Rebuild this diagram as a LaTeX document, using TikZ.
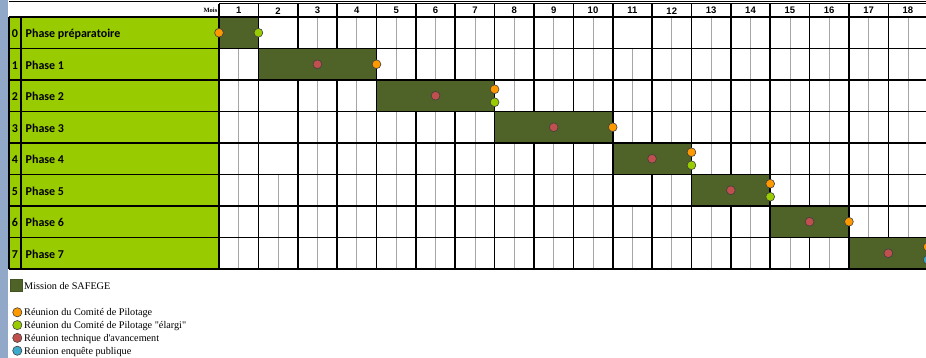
\documentclass[tikz,border=0pt]{standalone}
\usepackage{fontspec}
\setmainfont{Liberation Serif}[Ligatures=TeXOff]
\newfontfamily\calibri{Carlito}
\newfontfamily\arial{Liberation Sans}
\usetikzlibrary{positioning}
\definecolor{safege}{RGB}{79,98,40}
\definecolor{labelgreen}{RGB}{153,204,0}
\definecolor{copil}{RGB}{255,153,0}
\definecolor{copilx}{RGB}{153,204,0}
\definecolor{tech}{RGB}{192,80,77}
\definecolor{enquete}{RGB}{60,170,205}
\definecolor{sidebar}{RGB}{146,168,200}

\begin{document}
\begin{tikzpicture}[x=1pt, y=-1pt,
  month/.style={font=\arial\bfseries\fontsize{9.5}{10}\selectfont, inner sep=0pt},
  phasename/.style={font=\calibri\bfseries\fontsize{12}{14}\selectfont, anchor=base west, inner sep=0pt},
  phasenum/.style={phasename, anchor=base},
  bar/.style={fill=safege, draw=black, line width=1.6pt, inner sep=0pt, outer sep=0pt,
              minimum height=31.5pt, anchor=north west},
  meet/.style={circle, draw=black!75, line width=0.6pt, inner sep=0pt, minimum size=8.8pt},
  legend/.style={font=\fontsize{10.2}{12}\selectfont, anchor=base west, inner sep=0pt},
  thickline/.style={line width=1.6pt},
  halfline/.style={line width=0.7pt, gray!70},
]
  \useasboundingbox (0,0) rectangle (926,358);
  \fill[white] (0,0) rectangle (926,358);
  \fill[sidebar] (0,0) rectangle (7.5,358);

  % Phase label area
  \fill[labelgreen] (9,17) rectangle (219,269);

  % Half-month lines
  \foreach \r/\a/\b in {0/2/11, 1/0/0, 2/2/0, 3/2/0, 4/2/0, 5/11/0, 6/0/0, 7/0/0}
    \foreach \m in {1,...,18} {
      \ifnum\m=\a\relax\else\ifnum\m=\b\relax\else
        \draw[halfline] ({219+(\m-0.5)*39.37},{17+\r*31.5}) -- ++(0,31.5);
      \fi\fi
    };

  % Grid
  \draw[line width=1.2pt] (9,1.5) -- (926,1.5);
  \draw[line width=1pt] (219,4) -- (926,4);
  \foreach \k in {0,...,8}
    \draw[thickline] (9,{17+\k*31.5}) -- (926,{17+\k*31.5});
  \foreach \k in {0,...,18}
    \draw[thickline] ({219+\k*39.37},4) -- ({219+\k*39.37},269);
  \draw[thickline] (9,17) -- (9,269);
  \draw[thickline] (21,17) -- (21,269);

  % Mission bars
  \foreach \r/\s/\n in {0/1/1, 1/2/3, 2/5/3, 3/8/3, 4/11/2, 5/13/2, 6/15/2, 7/17/2}
    \node[bar, minimum width=\n*39.37pt] (b\r) at ({219+(\s-1)*39.37},{17+\r*31.5}) {};

  % Header
  \node[font=\bfseries\fontsize{6.5}{7}\selectfont, anchor=east, inner sep=0pt] (mois) at (217.5,10.5) {Mois};
  \foreach \m in {1,...,18}
    \node[month] (m\m) at ({219+(\m-0.5)*39.37},10.7) {\m};

  % Phase labels
  \foreach \r/\name in {0/Phase préparatoire, 1/Phase 1, 2/Phase 2, 3/Phase 3,
                        4/Phase 4, 5/Phase 5, 6/Phase 6, 7/Phase 7} {
    \node[phasenum] (n\r) at (15,{17+\r*31.5+20.7}) {\r};
    \node[phasename] (l\r) at (25.5,{17+\r*31.5+20.7}) {\name};
  }

  % Meetings
  \node[meet, fill=copil] (c0) at (b0.west) {};
  \node[meet, fill=copilx] (x0) at (b0.east) {};
  \foreach \r in {1,...,7}
    \node[meet, fill=tech] (t\r) at (b\r.center) {};
  \foreach \r in {1,3,6}
    \node[meet, fill=copil] (c\r) at (b\r.east) {};
  \foreach \r in {2,4,5} {
    \node[meet, fill=copil] (c\r) at ([yshift=6.5pt]b\r.east) {};
    \node[meet, fill=copilx] (x\r) at ([yshift=-6.5pt]b\r.east) {};
  }
  \node[meet, fill=copil] (c7) at ([yshift=6.5pt]b7.east) {};
  \node[meet, fill=enquete] (e7) at ([yshift=-6.5pt]b7.east) {};

  % Legend
  \node[fill=safege, draw=safege!85!black, minimum size=12pt, inner sep=0pt] (keybar) at (16.5,285.3) {};
  \node[legend] (keybartext) at (24,289.3) {Mission de SAFEGE};
  \foreach \i/\col/\txt in {0/copil/Réunion du Comité de Pilotage,
                            1/copilx/Réunion du Comité de Pilotage "élargi",
                            2/tech/Réunion technique d'avancement,
                            3/enquete/Réunion enquête publique} {
    \node[meet, fill=\col, minimum size=9.2pt] (k\i) at (17.3,{312.3+\i*12.8}) {};
    \node[legend] (kt\i) at (24,{315.6+\i*12.8}) {\txt};
  }
\end{tikzpicture}
\end{document}
